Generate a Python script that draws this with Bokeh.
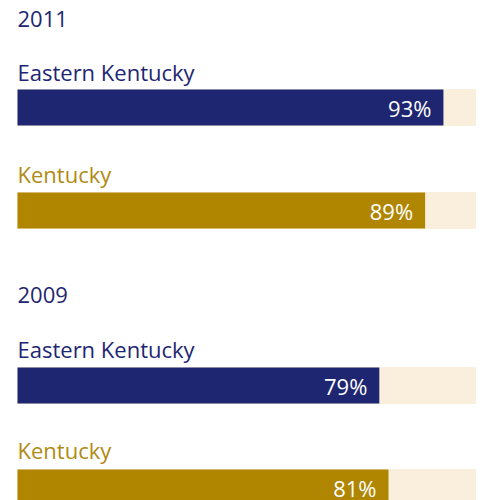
from bokeh.plotting import figure
from bokeh.models import Range1d, ColumnDataSource
from bokeh.core.properties import value
from bokeh.embed import file_html
from bokeh.resources import INLINE

years = ["2011", "2009"]
regions = ["Eastern Kentucky", "Kentucky", "Eastern Kentucky", "Kentucky"]
values = [93, 89, 79, 81]
pct_labels = ["93%", "89%", "79%", "81%"]

NAVY = "#1e2672"
GOLD = "#b08500"
GOLD_TXT = "#b08a14"
BG = "#faefdd"
FONT = "Open Sans"

W, H = 484, 500
x0_px, x100_px = 17, 475
scale = (x100_px - x0_px) / 100.0
xr = Range1d(-x0_px / scale, 100 + (W - x100_px) / scale)

p = figure(width=W, height=H, output_backend="svg", toolbar_location=None,
           x_range=xr, y_range=Range1d(H, 0), min_border=0)
p.axis.visible = False
p.grid.visible = False
p.outline_line_color = None
p.background_fill_color = "white"

bar_y = [107, 210, 385, 487]
colors = [NAVY, GOLD, NAVY, GOLD]
label_colors = [NAVY, GOLD_TXT, NAVY, GOLD_TXT]
label_y = [71, 173, 348, 449]
year_y = [18, 294]

src = ColumnDataSource(dict(y=bar_y, v=values, c=colors, lab=pct_labels,
                            reg=regions, lc=label_colors, ly=label_y,
                            full=[100] * len(values), zero=[0] * len(values)))

p.hbar(y="y", left="zero", right="full", height=36, color=BG, source=src)
p.hbar(y="y", left="zero", right="v", height=36, fill_color="c", line_color=None, source=src)
p.text(x="v", y="y", text="lab", text_color="white", text_align="right",
       text_baseline="middle", x_offset=-12, y_offset=0,
       text_font=value(FONT), text_font_size="22px", source=src)
p.text(x="zero", y="ly", text="reg", text_color="lc", text_align="left",
       text_baseline="alphabetic", text_font=value(FONT), text_font_size="22px", source=src)
p.text(x=[0, 0], y=year_y, text=years, text_color=NAVY, text_align="left",
       text_baseline="alphabetic", text_font=value(FONT), text_font_size="22px")

open("out.html", "w").write(file_html(p, INLINE))
